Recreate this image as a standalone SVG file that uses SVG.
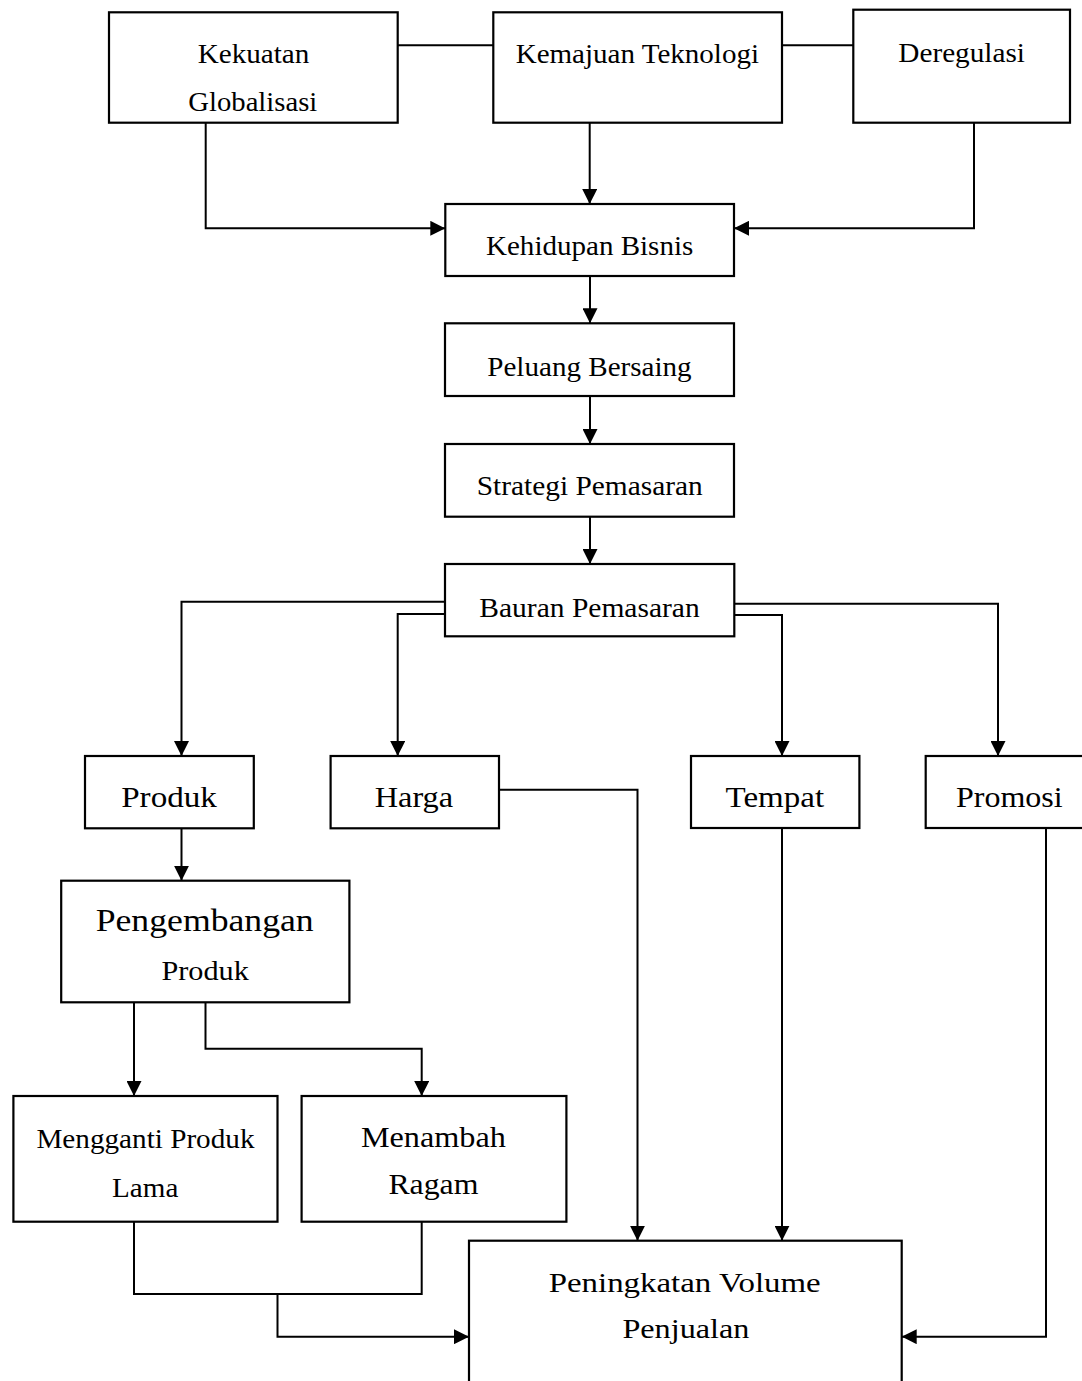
<svg xmlns="http://www.w3.org/2000/svg" width="1082" height="1381" viewBox="0 0 1082 1381">
<style>
  .box{fill:#fff;stroke:#000;stroke-width:2.2}
  .t{font-family:"Liberation Serif","Times New Roman",serif;fill:#000}
  .c{fill:none;stroke:#000;stroke-width:2}
  .a{marker-end:url(#ah)}
</style>
<defs>
  <marker id="ah" markerUnits="userSpaceOnUse" markerWidth="15" markerHeight="15" refX="14" refY="7" orient="auto" viewBox="0 0 14 14">
    <path d="M0,0 L14,7 L0,14 z" fill="#000"/>
  </marker>
</defs>
<rect width="1082" height="1381" fill="#fff"/>

<g id="connectors">
  <path class="c" d="M397.7 45.3 H493.3"/>
  <path class="c" d="M782 45.3 H853.3"/>
  <path class="c a" d="M589.7 122.7 V204"/>
  <path class="c a" d="M205.7 122.7 V228.3 H445.3"/>
  <path class="c a" d="M974 122.7 V228.3 H734"/>
  <path class="c a" d="M590 276 V323.3"/>
  <path class="c a" d="M590 396 V444"/>
  <path class="c a" d="M590 516.7 V564"/>
  <path class="c a" d="M445 601.7 H181.5 V756"/>
  <path class="c a" d="M445 614 H397.7 V756"/>
  <path class="c a" d="M734 615 H782 V756"/>
  <path class="c a" d="M734 603.7 H998 V756"/>
  <path class="c a" d="M181.5 828.3 V880.7"/>
  <path class="c a" d="M134 1002.3 V1096"/>
  <path class="c a" d="M205.5 1002.3 V1048.7 H421.7 V1096"/>
  <path class="c" d="M134 1221.7 V1294 H421.7 V1221.7"/>
  <path class="c a" d="M277.5 1294 V1336.7 H469"/>
  <path class="c a" d="M493.5 789.7 H637.5 V1240.7"/>
  <path class="c a" d="M782 828 V1240.7"/>
  <path class="c a" d="M1046 828 V1336.7 H901.7"/>
</g>

<g id="kekuatan-globalisasi">
  <rect class="box" x="109" y="12.3" width="288.7" height="110.4"/>
  <text class="t" x="197.7" y="63.3" font-size="27.5" textLength="111.7" lengthAdjust="spacingAndGlyphs">Kekuatan</text>
  <text class="t" x="188.3" y="110.7" font-size="27.5" textLength="129" lengthAdjust="spacingAndGlyphs">Globalisasi</text>
</g>
<g id="kemajuan-teknologi">
  <rect class="box" x="493.3" y="12.3" width="288.7" height="110.4"/>
  <text class="t" x="515.7" y="63.3" font-size="27.5" textLength="243.3" lengthAdjust="spacingAndGlyphs">Kemajuan Teknologi</text>
</g>
<g id="deregulasi">
  <rect class="box" x="853.3" y="9.7" width="216.7" height="113"/>
  <text class="t" x="898.3" y="61.7" font-size="27.5" textLength="126.7" lengthAdjust="spacingAndGlyphs">Deregulasi</text>
</g>
<g id="kehidupan-bisnis">
  <rect class="box" x="445.3" y="204" width="288.7" height="72"/>
  <text class="t" x="486" y="255" font-size="27.5" textLength="207.3" lengthAdjust="spacingAndGlyphs">Kehidupan Bisnis</text>
</g>
<g id="peluang-bersaing">
  <rect class="box" x="445" y="323.3" width="289" height="72.7"/>
  <text class="t" x="487.3" y="376" font-size="27.5" textLength="204.3" lengthAdjust="spacingAndGlyphs">Peluang Bersaing</text>
</g>
<g id="strategi-pemasaran">
  <rect class="box" x="445" y="444" width="289" height="72.7"/>
  <text class="t" x="476.7" y="495" font-size="27.5" textLength="226" lengthAdjust="spacingAndGlyphs">Strategi Pemasaran</text>
</g>
<g id="bauran-pemasaran">
  <rect class="box" x="445" y="564" width="289.3" height="72.3"/>
  <text class="t" x="479.3" y="616.8" font-size="27.5" textLength="220.4" lengthAdjust="spacingAndGlyphs">Bauran Pemasaran</text>
</g>
<g id="produk">
  <rect class="box" x="85" y="756" width="168.8" height="72.3"/>
  <text class="t" x="121.2" y="807.3" font-size="29.5" textLength="95.7" lengthAdjust="spacingAndGlyphs">Produk</text>
</g>
<g id="harga">
  <rect class="box" x="330.6" y="756" width="168.4" height="72.3"/>
  <text class="t" x="374.7" y="807.3" font-size="29.5" textLength="78.5" lengthAdjust="spacingAndGlyphs">Harga</text>
</g>
<g id="tempat">
  <rect class="box" x="691" y="756" width="168.4" height="72"/>
  <text class="t" x="725.6" y="807" font-size="29.5" textLength="98.5" lengthAdjust="spacingAndGlyphs">Tempat</text>
</g>
<g id="promosi">
  <rect class="box" x="925.7" y="756" width="170" height="72"/>
  <text class="t" x="956" y="806.7" font-size="29.5" textLength="106.7" lengthAdjust="spacingAndGlyphs">Promosi</text>
</g>
<g id="pengembangan-produk">
  <rect class="box" x="61.2" y="880.7" width="288.2" height="121.6"/>
  <text class="t" x="95.7" y="931" font-size="31.5" textLength="218" lengthAdjust="spacingAndGlyphs">Pengembangan</text>
  <text class="t" x="161.5" y="980" font-size="27.5" textLength="87.3" lengthAdjust="spacingAndGlyphs">Produk</text>
</g>
<g id="mengganti-produk-lama">
  <rect class="box" x="13.4" y="1096" width="264.1" height="125.7"/>
  <text class="t" x="36.4" y="1148.3" font-size="27.5" textLength="218.1" lengthAdjust="spacingAndGlyphs">Mengganti Produk</text>
  <text class="t" x="112.1" y="1196.7" font-size="27.5" textLength="66.2" lengthAdjust="spacingAndGlyphs">Lama</text>
</g>
<g id="menambah-ragam">
  <rect class="box" x="301.6" y="1096" width="264.8" height="125.7"/>
  <text class="t" x="360.9" y="1146.7" font-size="28.5" textLength="145" lengthAdjust="spacingAndGlyphs">Menambah</text>
  <text class="t" x="388.4" y="1194.3" font-size="28.5" textLength="90" lengthAdjust="spacingAndGlyphs">Ragam</text>
</g>
<g id="peningkatan-volume-penjualan">
  <rect class="box" x="469" y="1240.7" width="432.7" height="170"/>
  <text class="t" x="548.7" y="1291.7" font-size="26.7" textLength="272" lengthAdjust="spacingAndGlyphs">Peningkatan Volume</text>
  <text class="t" x="622.4" y="1338.3" font-size="26.7" textLength="127" lengthAdjust="spacingAndGlyphs">Penjualan</text>
</g>
</svg>
